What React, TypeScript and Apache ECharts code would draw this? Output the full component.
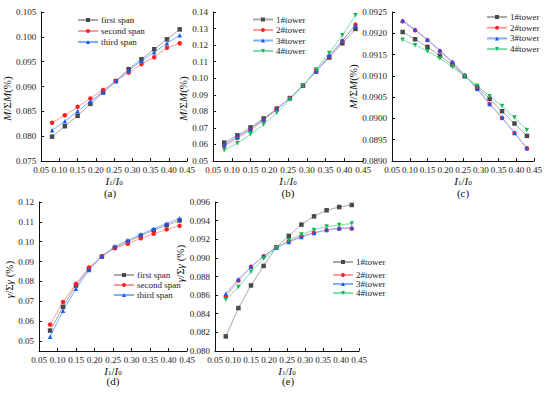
import React, { useEffect, useRef } from "react";
import * as echarts from "echarts";

const X = [0.08, 0.115, 0.15, 0.185, 0.22, 0.255, 0.29, 0.325, 0.36, 0.395, 0.43];
const xTicks = ["0.05", "0.10", "0.15", "0.20", "0.25", "0.30", "0.35", "0.40", "0.45"];

// (a) M/ΣM per span
const aFirst = [0.0799, 0.082, 0.0841, 0.0865, 0.0888, 0.0911, 0.0935, 0.0955, 0.0975, 0.0995, 0.1015];
const aSecond = [0.0827, 0.0842, 0.0859, 0.0876, 0.0893, 0.0911, 0.0928, 0.0945, 0.0959, 0.0978, 0.0987];
const aThird = [0.0812, 0.083, 0.085, 0.087, 0.0889, 0.0911, 0.0932, 0.0952, 0.0969, 0.0987, 0.1003];

// (b) M/ΣM per tower
const bT1 = [0.0611, 0.0655, 0.0703, 0.0757, 0.0817, 0.088, 0.0956, 0.1042, 0.1125, 0.1211, 0.1298];
const bT2 = [0.059, 0.0639, 0.0687, 0.0745, 0.0811, 0.088, 0.0956, 0.1042, 0.1133, 0.1225, 0.1324];
const bT3 = [0.0598, 0.0645, 0.0693, 0.0751, 0.0813, 0.088, 0.0956, 0.104, 0.1137, 0.1229, 0.1318];
const bT4 = [0.0567, 0.0607, 0.0661, 0.0721, 0.0791, 0.0872, 0.0954, 0.1052, 0.1153, 0.1259, 0.138];

// (c) M/ΣM per tower
const cT1 = [0.09203, 0.09186, 0.09168, 0.09147, 0.09126, 0.09099, 0.09073, 0.09046, 0.09017, 0.08988, 0.08959];
const cT2 = [0.09228, 0.09207, 0.09184, 0.09158, 0.09131, 0.09101, 0.09069, 0.09034, 0.09001, 0.08966, 0.0893];
const cT3 = [0.0923, 0.09209, 0.09185, 0.0916, 0.09133, 0.09102, 0.0907, 0.09034, 0.09002, 0.08966, 0.0893];
const cT4 = [0.09185, 0.09172, 0.09158, 0.09141, 0.09121, 0.09099, 0.09077, 0.09052, 0.09029, 0.09002, 0.08973];

// (d) γ/Σγ per span
const dFirst = [0.0553, 0.0672, 0.078, 0.0863, 0.0925, 0.097, 0.1, 0.103, 0.1058, 0.1083, 0.1107];
const dSecond = [0.0583, 0.0697, 0.0788, 0.087, 0.0927, 0.0967, 0.099, 0.1017, 0.104, 0.1062, 0.108];
const dThird = [0.0522, 0.0653, 0.0763, 0.0858, 0.0928, 0.0977, 0.1007, 0.1037, 0.1065, 0.1092, 0.1118];

// (e) γ/Σγ per tower
const eT1 = [0.08157, 0.08461, 0.08704, 0.08914, 0.09111, 0.09236, 0.09357, 0.09446, 0.09511, 0.09546, 0.09568];
const eT2 = [0.08582, 0.08757, 0.08904, 0.09018, 0.09111, 0.09179, 0.09229, 0.09271, 0.093, 0.09314, 0.09314];
const eT3 = [0.08614, 0.08771, 0.08904, 0.09021, 0.09111, 0.09171, 0.09225, 0.09268, 0.093, 0.09318, 0.09325];
const eT4 = [0.08554, 0.08686, 0.0885, 0.08993, 0.091, 0.09189, 0.0925, 0.093, 0.09336, 0.09354, 0.09368];

const spanNames = ["first span", "second span", "third span"];
const towerNames = ["1#tower", "2#tower", "3#tower", "4#tower"];
const dTicks = [0.05, 0.06, 0.07, 0.08, 0.09, 0.1, 0.11, 0.12];

const FONT = "'Liberation Serif', 'Times New Roman', serif";
const STY = [
  { m: "#4a4a4a", l: "#a8a8a8", symbol: "rect", rot: 0 },
  { m: "#ff2020", l: "#ff9c9c", symbol: "circle", rot: 0 },
  { m: "#1658ff", l: "#7db0ff", symbol: "triangle", rot: 0 },
  { m: "#14b85c", l: "#80dcab", symbol: "triangle", rot: 180 },
];

function mk(name: string, gi: number, ys: number[], k: number) {
  const s = STY[k];
  return {
    type: "line",
    name,
    xAxisIndex: gi,
    yAxisIndex: gi,
    data: X.map((x, i) => [x, ys[i]]),
    symbol: s.symbol,
    symbolRotate: s.rot,
    symbolSize: 4.5,
    itemStyle: { color: s.m },
    lineStyle: { color: s.l, width: 1 },
  };
}

const grids = [
  { left: 39, top: 12, width: 148, height: 149 },
  { left: 213, top: 12, width: 150, height: 149 },
  { left: 392, top: 12, width: 142, height: 149 },
  { left: 39, top: 202, width: 148, height: 149 },
  { left: 215, top: 202, width: 144, height: 149 },
];

function xAx(gi: number) {
  return {
    type: "value",
    gridIndex: gi,
    min: 0.05,
    max: 0.45,
    interval: 0.05,
    name: "{i|I}{s|1}{n|/}{i|I}{s|0}",
    nameLocation: "middle",
    nameGap: 14,
    nameTextStyle: {
      rich: {
        i: { fontFamily: FONT, fontSize: 11, fontStyle: "italic", color: "#111", lineHeight: 11, verticalAlign: "top" },
        n: { fontFamily: FONT, fontSize: 11, color: "#111", lineHeight: 11, verticalAlign: "top" },
        s: { fontFamily: FONT, fontSize: 7, color: "#111", lineHeight: 7, verticalAlign: "bottom" },
      },
    },
    axisLine: { show: true, onZero: false, lineStyle: { color: "#111", width: 1 } },
    axisTick: { show: true, inside: true, length: 3, lineStyle: { color: "#111" } },
    axisLabel: {
      margin: 4,
      fontFamily: FONT,
      fontSize: 9,
      color: "#222",
      formatter: (v: number) => xTicks[Math.round((v - 0.05) / 0.05)] ?? v.toFixed(2),
    },
    splitLine: { show: false },
  };
}

function yAx(
  gi: number,
  min: number,
  max: number,
  interval: number,
  dec: number,
  nm: string,
  gap: number,
  pad: number[],
  extra: any = {}
) {
  return {
    type: "value",
    gridIndex: gi,
    min,
    max,
    interval,
    name: nm,
    nameLocation: "middle",
    nameGap: gap,
    nameRotate: 90,
    nameTextStyle: {
      padding: pad,
      rich: {
        i: { fontFamily: FONT, fontSize: 11, fontStyle: "italic", color: "#111" },
        n: { fontFamily: FONT, fontSize: 11, color: "#111" },
      },
    },
    axisLine: { show: true, onZero: false, lineStyle: { color: "#111", width: 1 } },
    axisTick: { show: true, inside: true, length: 3, lineStyle: { color: "#111" }, ...(extra.tick || {}) },
    axisLabel: {
      margin: 5,
      fontFamily: FONT,
      fontSize: 9,
      color: "#222",
      formatter: (v: number) => v.toFixed(dec),
      ...(extra.label || {}),
    },
    splitLine: { show: false },
  };
}

function legend(names: string[], left: number, top: number, gap: number) {
  return {
    data: names,
    orient: "vertical",
    left,
    top,
    padding: 0,
    itemWidth: 20,
    itemHeight: 5,
    itemGap: gap,
    textStyle: { fontFamily: FONT, fontSize: 9, color: "#222", lineHeight: 9, padding: [0, 0, 0, -2] },
    selectedMode: false,
  };
}

const MNAME = "{i|M}{n|/Σ}{i|M}{n|(%)}";
const GNAME = "{i|γ}{n|/Σ}{i|γ}{n| (%)}";

export default function App() {
  const ref = useRef<HTMLDivElement>(null);
  useEffect(() => {
    if (!ref.current) return;
    const chart = echarts.init(ref.current, undefined, { renderer: "svg" });
    const sub = (t: string, x: number, y: number) => ({
      type: "text",
      x,
      y,
      style: { text: t, fontFamily: FONT, fontSize: 11, fill: "#111", align: "center", verticalAlign: "middle" },
    });
    chart.setOption({
      animation: false,
      backgroundColor: "#fff",
      grid: grids,
      xAxis: [0, 1, 2, 3, 4].map(xAx),
      yAxis: [
        yAx(0, 0.075, 0.105, 0.005, 3, MNAME, 22, [0, 24, 0, 0]),
        yAx(1, 0.05, 0.14, 0.01, 2, MNAME, 18, [0, 24, 0, 0]),
        yAx(2, 0.089, 0.0925, 0.0005, 4, MNAME, 26, [0, 0, 0, 0]),
        yAx(3, 0.045, 0.12, 0.005, 2, GNAME, 23, [0, 6, 0, 0], {
          tick: { customValues: dTicks },
          label: { customValues: dTicks },
        }),
        yAx(4, 0.08, 0.096, 0.002, 3, GNAME, 20, [0, 0, 0, 26]),
      ],
      legend: [
        legend(spanNames, 77, 15.5, 2),
        legend(towerNames, 252, 15, 1.5),
        legend(towerNames, 486, 12.5, 1.7),
        legend(spanNames, 113, 270.5, 1),
        legend(["1#tower"], 332, 257.5, 0),
        legend(["2#tower", "3#tower", "4#tower"], 332, 270.5, 0),
      ],
      graphic: [
        sub("(a)", 110, 193),
        sub("(b)", 288, 193),
        sub("(c)", 463, 193),
        sub("(d)", 113, 381),
        sub("(e)", 288, 381),
      ],
      series: [
        mk("first span", 0, aFirst, 0),
        mk("second span", 0, aSecond, 1),
        mk("third span", 0, aThird, 2),
        mk("1#tower", 1, bT1, 0),
        mk("2#tower", 1, bT2, 1),
        mk("3#tower", 1, bT3, 2),
        mk("4#tower", 1, bT4, 3),
        mk("1#tower", 2, cT1, 0),
        mk("2#tower", 2, cT2, 1),
        mk("3#tower", 2, cT3, 2),
        mk("4#tower", 2, cT4, 3),
        mk("first span", 3, dFirst, 0),
        mk("second span", 3, dSecond, 1),
        mk("third span", 3, dThird, 2),
        mk("1#tower", 4, eT1, 0),
        mk("2#tower", 4, eT2, 1),
        mk("3#tower", 4, eT3, 2),
        mk("4#tower", 4, eT4, 3),
      ],
    });
    return () => chart.dispose();
  }, []);
  return (
    <div
      ref={ref}
      style={{ position: "absolute", left: 0, top: 0, width: 550, height: 393, background: "#fff" }}
    />
  );
}
